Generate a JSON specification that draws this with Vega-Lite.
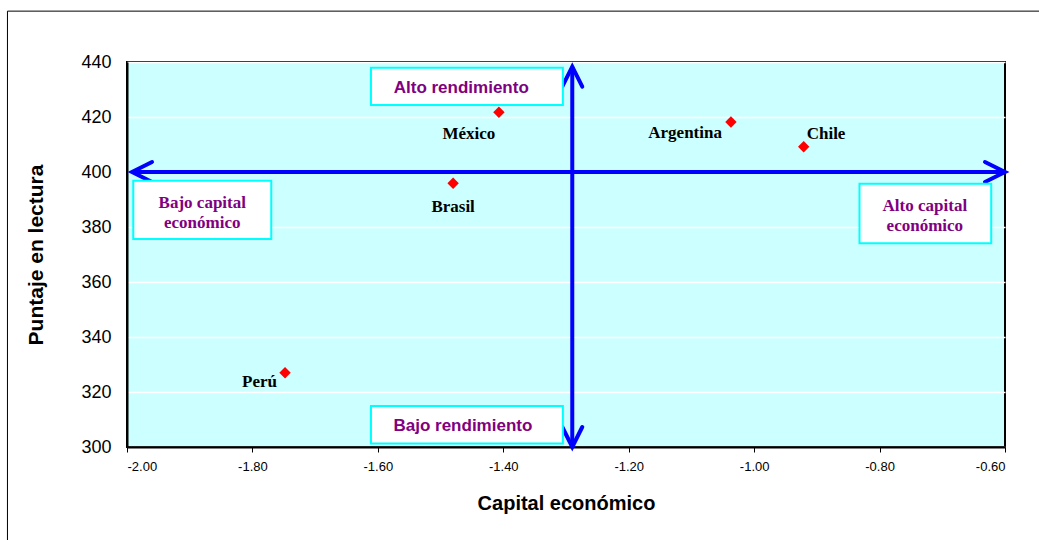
{
  "$schema": "https://vega.github.io/schema/vega-lite/v6.json",
  "autosize": "none",
  "width": 878,
  "height": 385,
  "padding": {"left": 127, "top": 62, "right": 34, "bottom": 93},
  "background": "white",
  "config": {
    "view": {"fill": "#CCFFFF", "stroke": "black", "strokeWidth": 2},
    "font": "Liberation Sans"
  },
  "datasets": {
    "paises": [
      {"pais": "México", "capital": -1.407, "lectura": 421.7},
      {"pais": "Brasil", "capital": -1.480, "lectura": 395.9},
      {"pais": "Argentina", "capital": -1.037, "lectura": 418.2},
      {"pais": "Chile", "capital": -0.921, "lectura": 409.2},
      {"pais": "Perú", "capital": -1.748, "lectura": 327.0}
    ],
    "ejes": [
      {"x": -1.992, "x2": -0.6, "y": 400, "y2": 400},
      {"x": -1.29, "x2": -1.29, "y": 300, "y2": 438.3}
    ],
    "puntas": [
      {"x": -0.6, "y": 400, "dir": "derecha"},
      {"x": -1.992, "y": 400, "dir": "izquierda"},
      {"x": -1.29, "y": 438.3, "dir": "arriba"},
      {"x": -1.29, "y": 300, "dir": "abajo"}
    ],
    "cajas": [
      {"texto": "Alto rendimiento", "tipo": "rend", "x1": -1.611, "x2": -1.305, "y1": 437.9, "y2": 424.4, "tx": -1.467, "ty": 430.6},
      {"texto": "Bajo rendimiento", "tipo": "rend", "x1": -1.611, "x2": -1.305, "y1": 314.9, "y2": 301.3, "tx": -1.4644, "ty": 307.6},
      {"texto": "Bajo capital\neconómico", "tipo": "cap", "x1": -1.990, "x2": -1.770, "y1": 396.8, "y2": 375.6, "tx": -1.880, "ty": 388.6},
      {"texto": "Alto capital\neconómico", "tipo": "cap", "x1": -0.832, "x2": -0.622, "y1": 395.7, "y2": 374.1, "tx": -0.7278, "ty": 387.6}
    ],
    "marco": [
      {"x1": -2.1906, "x2": -0.53, "y1": 458.5, "y2": 264}
    ]
  },
  "layer": [
    {
      "data": {"name": "marco"},
      "mark": {"type": "rect", "fill": null, "stroke": "black", "strokeWidth": 1, "clip": false},
      "encoding": {
        "x": {"field": "x1", "type": "quantitative", "scale": {"domain": [-2, -0.6], "nice": false, "zero": false},
          "axis": {
            "title": "Capital económico", "titleFont": "Liberation Sans", "titleFontSize": 20, "titleFontWeight": "bold", "titleColor": "black", "titlePadding": 20,
            "values": [-2, -1.8, -1.6, -1.4, -1.2, -1, -0.8, -0.6],
            "labelExpr": "replace(format(datum.value, '.2f'), '\u2212', '-')",
            "labelFont": "Liberation Sans", "labelFontSize": 13, "labelColor": "black", "labelPadding": 8,
            "tickColor": "black", "tickSize": 5, "tickWidth": 1,
            "domainColor": "black", "domainWidth": 2, "grid": false
          }
        },
        "x2": {"field": "x2"},
        "y": {"field": "y1", "type": "quantitative", "scale": {"domain": [300, 440], "nice": false, "zero": false},
          "axis": {
            "title": "Puntaje en lectura", "titleFont": "Liberation Sans", "titleFontSize": 21, "titleFontWeight": "bold", "titleColor": "black", "titlePadding": 34,
            "values": [300, 320, 340, 360, 380, 400, 420, 440],
            "labelFont": "Liberation Sans", "labelFontSize": 18, "labelColor": "black", "labelPadding": 16,
            "ticks": false,
            "domainColor": "black", "domainWidth": 2,
            "grid": true, "gridColor": "white", "gridWidth": 1.5
          }
        },
        "y2": {"field": "y2"}
      }
    },
    {
      "data": {"name": "ejes"},
      "mark": {"type": "rule", "color": "#0000FF", "strokeWidth": 4},
      "encoding": {
        "x": {"field": "x", "type": "quantitative"},
        "x2": {"field": "x2"},
        "y": {"field": "y", "type": "quantitative"},
        "y2": {"field": "y2"}
      }
    },
    {
      "data": {"name": "puntas"},
      "mark": {"type": "point", "filled": false, "stroke": "#0000FF", "strokeWidth": 4, "size": 400, "opacity": 1, "strokeCap": "round", "strokeJoin": "miter"},
      "encoding": {
        "x": {"field": "x", "type": "quantitative"},
        "y": {"field": "y", "type": "quantitative"},
        "shape": {"field": "dir", "type": "nominal", "legend": null,
          "scale": {"domain": ["derecha", "izquierda", "arriba", "abajo"],
            "range": ["M-2,-1L0,0L-2,1", "M2,-1L0,0L2,1", "M-1,2L0,0L1,2", "M-1,-2L0,0L1,-2"]}}
      }
    },
    {
      "data": {"name": "cajas"},
      "mark": {"type": "rect", "fill": "white", "stroke": "#00FFFF", "strokeWidth": 2},
      "encoding": {
        "x": {"field": "x1", "type": "quantitative"},
        "x2": {"field": "x2"},
        "y": {"field": "y1", "type": "quantitative"},
        "y2": {"field": "y2"}
      }
    },
    {
      "data": {"name": "cajas"},
      "transform": [{"filter": "datum.tipo === 'rend'"}],
      "mark": {"type": "text", "font": "Liberation Sans", "fontSize": 17, "fontWeight": "bold", "color": "#800080", "align": "center", "baseline": "middle"},
      "encoding": {
        "x": {"field": "tx", "type": "quantitative"},
        "y": {"field": "ty", "type": "quantitative"},
        "text": {"field": "texto"}
      }
    },
    {
      "data": {"name": "cajas"},
      "transform": [{"filter": "datum.tipo === 'cap'"}],
      "mark": {"type": "text", "font": "Liberation Serif", "fontSize": 17, "fontWeight": "bold", "color": "#800080", "align": "center", "baseline": "middle", "lineBreak": "\n", "lineHeight": 20},
      "encoding": {
        "x": {"field": "tx", "type": "quantitative"},
        "y": {"field": "ty", "type": "quantitative"},
        "text": {"field": "texto"}
      }
    },
    {
      "data": {"name": "paises"},
      "mark": {"type": "point", "shape": "diamond", "filled": true, "color": "#FF0000", "size": 130, "opacity": 1},
      "encoding": {
        "x": {"field": "capital", "type": "quantitative"},
        "y": {"field": "lectura", "type": "quantitative"}
      }
    },
    {
      "data": {"name": "paises"},
      "transform": [{"filter": "datum.pais === 'México'"}],
      "mark": {"type": "text", "font": "Liberation Serif", "fontSize": 17, "fontWeight": "bold", "color": "black", "align": "center", "baseline": "middle", "dx": -30, "dy": 22},
      "encoding": {"x": {"field": "capital", "type": "quantitative"}, "y": {"field": "lectura", "type": "quantitative"}, "text": {"field": "pais"}}
    },
    {
      "data": {"name": "paises"},
      "transform": [{"filter": "datum.pais === 'Brasil'"}],
      "mark": {"type": "text", "font": "Liberation Serif", "fontSize": 17, "fontWeight": "bold", "color": "black", "align": "center", "baseline": "middle", "dx": 0, "dy": 24},
      "encoding": {"x": {"field": "capital", "type": "quantitative"}, "y": {"field": "lectura", "type": "quantitative"}, "text": {"field": "pais"}}
    },
    {
      "data": {"name": "paises"},
      "transform": [{"filter": "datum.pais === 'Argentina'"}],
      "mark": {"type": "text", "font": "Liberation Serif", "fontSize": 17, "fontWeight": "bold", "color": "black", "align": "right", "baseline": "middle", "dx": -9, "dy": 11},
      "encoding": {"x": {"field": "capital", "type": "quantitative"}, "y": {"field": "lectura", "type": "quantitative"}, "text": {"field": "pais"}}
    },
    {
      "data": {"name": "paises"},
      "transform": [{"filter": "datum.pais === 'Chile'"}],
      "mark": {"type": "text", "font": "Liberation Serif", "fontSize": 17, "fontWeight": "bold", "color": "black", "align": "left", "baseline": "middle", "dx": 3, "dy": -13},
      "encoding": {"x": {"field": "capital", "type": "quantitative"}, "y": {"field": "lectura", "type": "quantitative"}, "text": {"field": "pais"}}
    },
    {
      "data": {"name": "paises"},
      "transform": [{"filter": "datum.pais === 'Perú'"}],
      "mark": {"type": "text", "font": "Liberation Serif", "fontSize": 17, "fontWeight": "bold", "color": "black", "align": "right", "baseline": "middle", "dx": -8, "dy": 9},
      "encoding": {"x": {"field": "capital", "type": "quantitative"}, "y": {"field": "lectura", "type": "quantitative"}, "text": {"field": "pais"}}
    }
  ]
}
